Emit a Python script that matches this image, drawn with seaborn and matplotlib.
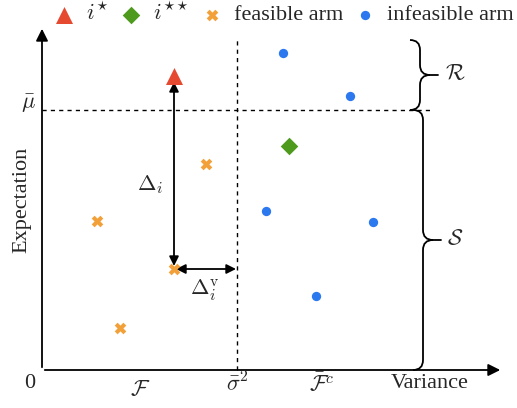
import numpy as np
import pandas as pd
import matplotlib
matplotlib.use("Agg")
import matplotlib.pyplot as plt
from matplotlib.path import Path
from matplotlib.patches import PathPatch
import seaborn as sns

# arm positions (variance, expectation), arbitrary units
kinds = ["$i^{\\star}$", "$i^{\\star\\star}$", "feasible arm", "infeasible arm"]
best_x, best_y = [13.2], [29.4]
second_x, second_y = [24.7], [22.4]
feasible_x = [16.4, 5.5, 13.2, 7.8]
feasible_y = [20.6, 14.9, 10.1, 4.2]
infeasible_x = [24.1, 30.8, 22.4, 33.1, 27.4]
infeasible_y = [31.7, 27.4, 15.9, 14.8, 7.4]
mu_bar = 26.0
sigma_bar2 = 19.5

colors = ["#e5492f", "#4e9a1c", "#f2a13a", "#2b78ef"]
markers = ["^", "D", "X", "o"]
sizes = [150, 80, 70, 45]

df = pd.concat([
    pd.DataFrame({"var": best_x, "exp": best_y, "kind": kinds[0]}),
    pd.DataFrame({"var": second_x, "exp": second_y, "kind": kinds[1]}),
    pd.DataFrame({"var": feasible_x, "exp": feasible_y, "kind": kinds[2]}),
    pd.DataFrame({"var": infeasible_x, "exp": infeasible_y, "kind": kinds[3]}),
], ignore_index=True)

sns.set_style("white")
plt.rcParams["font.family"] = ["Liberation Serif", "DejaVu Serif"]
plt.rcParams["mathtext.fontset"] = "cm"

fig = plt.figure(figsize=(5.17, 4.08), dpi=100)
ax = fig.add_axes([0, 0, 1, 1])
ax.set_xlim(-4.2, 47.5)
ax.set_ylim(-3.8, 37.0)
ax.set_axis_off()

for k, c, m, s in zip(kinds, colors, markers, sizes):
    sub = df[df["kind"] == k]
    sns.scatterplot(data=sub, x="var", y="exp", color=c, marker=m, s=s,
                    linewidth=0, ax=ax, label=k, zorder=5)

# axes arrows
ax.annotate("", xy=(46.1, 0), xytext=(0, 0),
            arrowprops=dict(arrowstyle="-|>", color="black", lw=1.3, mutation_scale=18))
ax.annotate("", xy=(0, 34.4), xytext=(0, 0),
            arrowprops=dict(arrowstyle="-|>", color="black", lw=1.3, mutation_scale=18))

# thresholds
ax.plot([0, 39.0], [mu_bar, mu_bar], ls=(0, (3, 3)), color="black", lw=1)
ax.plot([sigma_bar2, sigma_bar2], [0, 33.2], ls=(0, (3, 3)), color="black", lw=1)

# gaps
ax.annotate("", xy=(best_x[0], best_y[0] - 0.6), xytext=(feasible_x[2], feasible_y[2] + 0.3),
            arrowprops=dict(arrowstyle="<|-|>", color="black", lw=1.3, mutation_scale=14,
                            shrinkA=0, shrinkB=0))
ax.annotate("", xy=(sigma_bar2 - 0.1, feasible_y[2]), xytext=(feasible_x[2] + 0.2, feasible_y[2]),
            arrowprops=dict(arrowstyle="<|-|>", color="black", lw=1.3, mutation_scale=14,
                            shrinkA=0, shrinkB=0))


def brace(x, y0, y1, w=1.0, tip=0.8):
    mid = (y0 + y1) / 2
    verts = [(x - w, y1), (x, y1), (x, y1 - w),
             (x, mid + w), (x, mid), (x + w, mid),
             (x, mid), (x, mid - w),
             (x, y0 + w), (x, y0), (x - w, y0)]
    codes = [Path.MOVETO, Path.CURVE3, Path.CURVE3,
             Path.LINETO, Path.CURVE3, Path.CURVE3,
             Path.CURVE3, Path.CURVE3,
             Path.LINETO, Path.CURVE3, Path.CURVE3]
    ax.add_patch(PathPatch(Path(verts, codes), fill=False, lw=1.3, color="black"))
    ax.plot([x + w, x + w + tip], [mid, mid], color="black", lw=1.3)


brace(37.8, mu_bar, 33.0)
brace(38.1, 0.0, mu_bar)

fs = 16
ax.text(-1.2, -1.3, "0", fontsize=fs, ha="center", va="center")
ax.text(38.8, -1.3, "Variance", fontsize=fs, ha="center", va="center")
ax.text(9.8, -2.1, "$\\mathcal{F}$", fontsize=fs, ha="center", va="center")
ax.text(sigma_bar2, -1.4, "$\\bar{\\sigma}^2$", fontsize=fs, ha="center", va="center")
ax.text(28.0, -1.5, "$\\bar{\\mathcal{F}}^c$", fontsize=fs, ha="center", va="center")
ax.text(-2.0, 17.0, "Expectation", fontsize=fs, ha="center", va="center", rotation=90)
ax.text(-1.4, 26.6, "$\\bar{\\mu}$", fontsize=fs, ha="center", va="center")
ax.text(10.8, 18.5, "$\\Delta_i$", fontsize=fs, ha="center", va="center")
ax.text(16.3, 8.0, "$\\Delta_i^{\\mathrm{v}}$", fontsize=fs, ha="center", va="center")
ax.text(41.3, 29.5, "$\\mathcal{R}$", fontsize=fs, ha="center", va="center")
ax.text(41.3, 13.0, "$\\mathcal{S}$", fontsize=fs, ha="center", va="center")

sns.move_legend(ax, "center", bbox_to_anchor=(0.548, 0.965), ncol=4, frameon=False,
                fontsize=fs, handletextpad=0.5, columnspacing=0.5, handlelength=1.0,
                title=None, borderaxespad=0, borderpad=0, markerscale=1.0)

fig.savefig("out.png", dpi=100)
